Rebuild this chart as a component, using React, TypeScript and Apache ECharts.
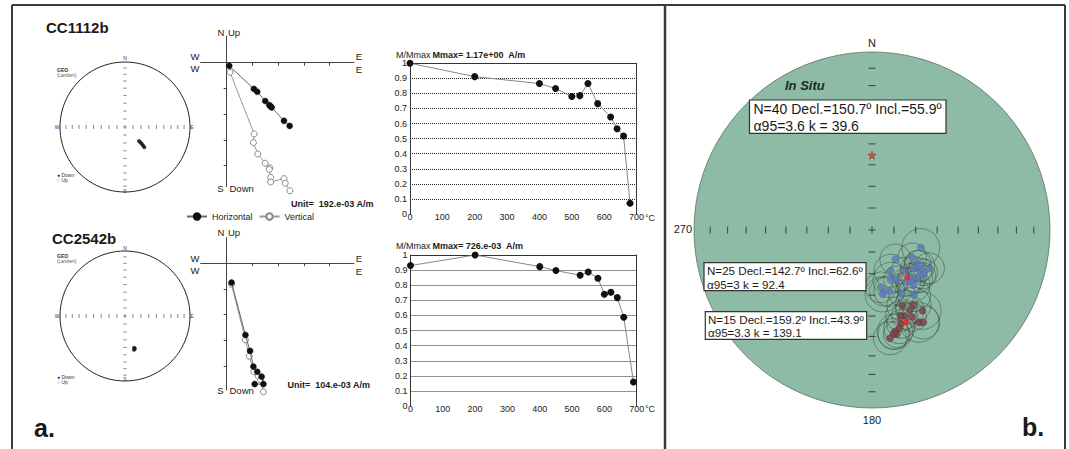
import React, { useEffect, useRef } from 'react';
import * as echarts from 'echarts';

const FONT = '"Liberation Sans", Arial, Helvetica, sans-serif';

// ---------- texts ----------
const sampleNames = ['CC1112b', 'CC2542b'];
const unitLabels = ['Unit=  192.e-03 A/m', 'Unit=  104.e-03 A/m'];
const mmaxLabels = ['Mmax= 1.17e+00  A/m', 'Mmax= 726.e-03  A/m'];
const meanBoxTexts = [
  'N=40 Decl.=150.7º Incl.=55.9º\nα95=3.6 k = 39.6',
  'N=25 Decl.=142.7º Incl.=62.6º\nα95=3 k = 92.4',
  'N=15 Decl.=159.2º Incl.=43.9º\nα95=3.3 k = 139.1',
];

// ---------- small equal-area nets (x = east, y = north, net radius = 1) ----------
const stereoTopPoints = [[0.215, -0.215], [0.238, -0.238], [0.26, -0.262], [0.28, -0.288], [0.298, -0.31]];
const stereoBottomPoints = [[0.14, -0.49], [0.152, -0.505], [0.138, -0.52]];

// ---------- Zijderveld diagrams (x = east, y = south / down, in tick units) ----------
const zijTopHorizontal = [[0.10, 0.12], [1.06, 1.02], [1.19, 1.13], [1.50, 1.49], [1.66, 1.65], [1.71, 1.70], [1.75, 1.74], [2.23, 2.26], [2.45, 2.46]];
const zijTopVertical = [[0.13, 0.37], [1.07, 2.77], [1.04, 3.11], [1.21, 3.55], [1.50, 3.91], [1.68, 4.09], [1.66, 4.15], [1.71, 4.46], [1.71, 4.64], [2.23, 4.51], [2.28, 4.69], [2.46, 4.98]];
const zijBottomHorizontal = [[0.19, 0.75], [0.73, 2.79], [0.91, 3.41], [1.04, 4.02], [1.19, 4.22], [1.36, 4.41], [1.43, 4.70], [1.09, 4.70]];
const zijBottomVertical = [[0.19, 0.82], [0.73, 2.98], [0.88, 3.61], [1.06, 4.22], [1.23, 4.39], [1.32, 4.54], [1.43, 5.00]];
const zijTicks = [1, 2, 3, 4];

// ---------- thermal demagnetisation curves ----------
const demagTempsTop = [0, 200, 400, 450, 500, 525, 550, 580, 620, 640, 660, 680];
const demagValuesTop = [1.0, 0.911, 0.865, 0.832, 0.779, 0.785, 0.865, 0.732, 0.644, 0.566, 0.518, 0.072];
const demagTempsBottom = [0, 200, 400, 450, 525, 550, 580, 600, 620, 640, 660, 690];
const demagValuesBottom = [0.93, 1.0, 0.923, 0.897, 0.866, 0.888, 0.846, 0.74, 0.754, 0.718, 0.588, 0.16];

// ---------- site mean net (x = east, y = north, net radius = 1) ----------
const siteBlue = [
  [0.274, -0.099], [0.131, -0.165], [0.226, -0.153], [0.257, -0.189], [0.320, -0.215],
  [0.105, -0.229], [0.181, -0.229], [0.270, -0.225], [0.283, -0.257], [0.254, -0.268],
  [0.226, -0.266], [0.105, -0.281], [0.139, -0.277], [0.232, -0.309], [0.049, -0.322],
  [0.067, -0.347], [0.060, -0.361], [0.097, -0.343], [0.167, -0.356], [0.236, -0.365],
  [0.229, -0.215], [0.294, -0.238], [0.266, -0.201], [0.195, -0.290], [0.219, -0.287],
];
const siteBlueA95 = [8.6, 7, 6.5, 6, 7, 7.5, 6, 5.5, 6, 7, 6.5, 8, 6, 7.5, 7, 6.5, 8, 7, 6, 7.5, 5.5, 6, 7, 6.5, 6];
const siteMaroon = [
  [0.170, -0.425], [0.232, -0.421], [0.213, -0.449], [0.283, -0.453], [0.163, -0.483],
  [0.185, -0.483], [0.264, -0.519], [0.288, -0.519], [0.163, -0.528], [0.153, -0.552],
  [0.129, -0.571], [0.139, -0.586], [0.120, -0.584], [0.101, -0.608], [0.225, -0.489],
];
const siteMaroonA95 = [7, 8, 6.5, 8.5, 7, 6, 9, 7.5, 6.5, 7, 8, 6, 7, 7.5, 6.5];
const siteMeans = [[0.198, -0.266], [0.191, -0.519]];
const siteMeanA95 = [3, 3.3];
const siteStar = [[0, 0.42]];

// graticule: inclinations marked every 10 degrees on the net diameters
const netTickIncl = [10, 20, 30, 40, 50, 60, 70, 80, 90];

const eqArea = (inc: number) => Math.SQRT2 * Math.sin(((90 - inc) / 2) * Math.PI / 180);
const A95_SCALE = 0.71 * Math.PI / 180;

function netTicks() {
  const out: number[][] = [];
  netTickIncl.forEach((inc) => {
    const r = eqArea(inc);
    if (r < 1e-9) {
      out.push([0, 0, 0], [0, 0, 1]);
    } else {
      out.push([r, 0, 0], [-r, 0, 0], [0, r, 1], [0, -r, 1]);
    }
  });
  return out;
}

const circleRender = (fill: string, stroke: string, lw: number) => (params: any, api: any) => {
  const c = api.coord([0, 0]);
  const e = api.coord([1, 0]);
  return { type: 'circle', shape: { cx: c[0], cy: c[1], r: e[0] - c[0] }, style: { fill, stroke, lineWidth: lw } };
};

const tickRender = (halfV: number, halfH: number, stroke: string, lw: number) => (params: any, api: any) => {
  const p = api.coord([api.value(0), api.value(1)]);
  const o = api.value(2);
  const shape = o === 0
    ? { x1: p[0], y1: p[1] - halfV, x2: p[0], y2: p[1] + halfV }
    : { x1: p[0] - halfH, y1: p[1], x2: p[0] + halfH, y2: p[1] };
  return { type: 'line', shape, style: { stroke, lineWidth: lw } };
};

const a95Render = (stroke: string, lw: number, dash?: number[]) => (params: any, api: any) => {
  const x = api.value(0);
  const y = api.value(1);
  const a = api.value(2);
  const c = api.coord([x, y]);
  const e = api.coord([x + a * A95_SCALE, y]);
  return {
    type: 'circle',
    shape: { cx: c[0], cy: c[1], r: Math.abs(e[0] - c[0]) },
    style: { fill: 'none', stroke, lineWidth: lw, lineDash: dash },
  };
};

const txt = (x: number, y: number, text: string, size: number, opts: any = {}) => ({
  type: 'text',
  x,
  y,
  z: 100,
  style: {
    text,
    fill: opts.fill || '#1a1a1a',
    fontSize: size,
    fontFamily: FONT,
    fontWeight: opts.bold ? 'bold' : 'normal',
    fontStyle: opts.italic ? 'italic' : 'normal',
    align: opts.align || 'left',
    textAlign: opts.align || 'left',
    verticalAlign: opts.va || 'middle',
    textVerticalAlign: opts.va || 'middle',
    lineHeight: opts.lineHeight,
  },
});

const hline = (x1: number, y1: number, x2: number, y2: number, w: number) => ({
  type: 'line',
  z: 100,
  shape: { x1, y1, x2, y2 },
  style: { stroke: '#3a3a3a', lineWidth: w },
});

const box = (x: number, y: number, w: number, h: number) => ({
  type: 'rect',
  z: 99,
  shape: { x, y, width: w, height: h },
  style: { fill: '#ffffff', stroke: '#333333', lineWidth: 1.2 },
});

function stereoAxes() {
  return {
    x: { type: 'value', min: -1, max: 1, show: false },
    y: { type: 'value', min: -1, max: 1, show: false },
  };
}

function zijAxes(xMin: number, xMax: number, yMin: number, yMax: number) {
  const common = {
    type: 'value',
    axisLine: { show: true, onZero: true, lineStyle: { color: '#444', width: 1 } },
    axisTick: { show: true, length: 3, customValues: zijTicks, lineStyle: { color: '#444', width: 1 } },
    axisLabel: { show: false },
    splitLine: { show: false },
  };
  return {
    x: { ...common, min: xMin, max: xMax, position: 'bottom' },
    y: { ...common, min: yMin, max: yMax, inverse: true, position: 'left' },
  };
}

function demagAxes() {
  const labelStyle = { fontSize: 9, color: '#222', fontFamily: FONT };
  return {
    x: {
      type: 'value', min: 0, max: 700, interval: 100,
      axisLine: { show: false, onZero: false },
      axisTick: { show: false },
      axisLabel: { ...labelStyle, margin: -2 },
      splitLine: { show: false },
    },
    xTop: {
      type: 'value', min: 0, max: 700, position: 'top',
      axisLine: { show: true, onZero: false, lineStyle: { color: '#333', width: 1 } },
      axisTick: { show: false }, axisLabel: { show: false }, splitLine: { show: false },
    },
    y: {
      type: 'value', min: 0, max: 1, interval: 0.1, position: 'left',
      axisLine: { show: true, onZero: false, lineStyle: { color: '#333', width: 1 } },
      axisTick: { show: false },
      axisLabel: { ...labelStyle, margin: 3, formatter: (v: number) => String(Number(v.toFixed(1))) },
      splitLine: { show: true, showMinLine: false, showMaxLine: false, lineStyle: { color: '#222', type: 'dotted', width: 1 } },
    },
    yRight: {
      type: 'value', min: 0, max: 1, position: 'right',
      axisLine: { show: true, onZero: false, lineStyle: { color: '#333', width: 1 } },
      axisTick: { show: false }, axisLabel: { show: false }, splitLine: { show: false },
    },
  };
}

function buildOption() {
  const s0 = stereoAxes();
  const s1 = stereoAxes();
  const s2 = stereoAxes();
  const z0 = zijAxes(-1.01, 4.95, -1.04, 4.82);
  const z1 = zijAxes(-1.01, 4.95, -1.0, 4.93);
  const d0 = demagAxes();
  const d1 = demagAxes();

  const grid = [
    { left: 60, top: 62, width: 130, height: 130 }, // 0 small net top
    { left: 200.7, top: 36, width: 153.2, height: 150.6 }, // 1 zij top
    { left: 410, top: 63.2, width: 226.5, height: 150.9 }, // 2 demag top
    { left: 60, top: 251, width: 130, height: 130 }, // 3 small net bottom
    { left: 200.7, top: 237.6, width: 153.2, height: 152.4 }, // 4 zij bottom
    { left: 410.5, top: 255, width: 226.2, height: 151.1 }, // 5 demag bottom
    { left: 694, top: 52, width: 356, height: 356 }, // 6 site net
  ].map((g) => ({ ...g, containLabel: false, outerBoundsMode: 'none' }));

  const xAxis = [
    { ...s0.x, gridIndex: 0 },
    { ...z0.x, gridIndex: 1 },
    { ...d0.x, gridIndex: 2 },
    { ...d0.xTop, gridIndex: 2 },
    { ...s1.x, gridIndex: 3 },
    { ...z1.x, gridIndex: 4 },
    { ...d1.x, gridIndex: 5 },
    { ...d1.xTop, gridIndex: 5 },
    { ...s2.x, gridIndex: 6 },
  ];
  const yAxis = [
    { ...s0.y, gridIndex: 0 },
    { ...z0.y, gridIndex: 1 },
    { ...d0.y, gridIndex: 2 },
    { ...d0.yRight, gridIndex: 2 },
    { ...s1.y, gridIndex: 3 },
    { ...z1.y, gridIndex: 4 },
    { ...d1.y, gridIndex: 5 },
    { ...d1.yRight, gridIndex: 5 },
    { ...s2.y, gridIndex: 6 },
  ];

  const ticks = netTicks();

  const smallNet = (axisIdx: number, pts: number[][]) => [
    {
      type: 'custom', xAxisIndex: axisIdx, yAxisIndex: axisIdx, silent: true, z: 1,
      renderItem: circleRender('none', '#222', 1), data: [[0, 0]],
    },
    {
      type: 'custom', xAxisIndex: axisIdx, yAxisIndex: axisIdx, silent: true, z: 2,
      renderItem: tickRender(2, 1.7, '#555', 0.7), data: ticks,
    },
    {
      type: 'scatter', xAxisIndex: axisIdx, yAxisIndex: axisIdx, z: 3,
      symbol: 'circle', symbolSize: 4,
      itemStyle: { color: '#111' }, data: pts,
    },
  ];

  const zijSeries = (axisIdx: number, h: number[][], v: number[][]) => [
    {
      name: 'Horizontal', type: 'line', xAxisIndex: axisIdx, yAxisIndex: axisIdx, clip: false, z: 4,
      symbol: 'circle', symbolSize: 6, showSymbol: true,
      lineStyle: { color: '#666', width: 1 },
      itemStyle: { color: '#111', borderColor: '#111', borderWidth: 0.5 },
      data: h,
    },
    {
      name: 'Vertical', type: 'line', xAxisIndex: axisIdx, yAxisIndex: axisIdx, clip: false, z: 3,
      symbol: 'circle', symbolSize: 6, showSymbol: true,
      lineStyle: { color: '#999', width: 1 },
      itemStyle: { color: '#ffffff', borderColor: '#888', borderWidth: 1 },
      data: v,
    },
  ];

  const demagSeries = (axisIdx: number, temps: number[], vals: number[]) => ({
    type: 'line', xAxisIndex: axisIdx, yAxisIndex: axisIdx, clip: false, z: 4,
    symbol: 'circle', symbolSize: 7,
    lineStyle: { color: '#888', width: 1 },
    itemStyle: { color: '#111' },
    data: temps.map((t, i) => [t, vals[i]]),
  });

  const series: any[] = [
    ...smallNet(0, stereoTopPoints),
    ...zijSeries(1, zijTopHorizontal, zijTopVertical),
    demagSeries(2, demagTempsTop, demagValuesTop),
    ...smallNet(4, stereoBottomPoints),
    ...zijSeries(5, zijBottomHorizontal, zijBottomVertical),
    demagSeries(6, demagTempsBottom, demagValuesBottom),
    // site net
    {
      type: 'custom', xAxisIndex: 8, yAxisIndex: 8, silent: true, z: 1,
      renderItem: circleRender('#8dbba5', '#5d6f66', 0.8), data: [[0, 0]],
    },
    {
      type: 'custom', xAxisIndex: 8, yAxisIndex: 8, silent: true, z: 2,
      renderItem: tickRender(3.5, 3.5, '#333', 0.9), data: ticks,
    },
    {
      type: 'custom', xAxisIndex: 8, yAxisIndex: 8, silent: true, z: 3,
      renderItem: a95Render('rgba(45,60,52,0.75)', 0.6),
      data: siteBlue.map((p, i) => [p[0], p[1], siteBlueA95[i]]),
    },
    {
      type: 'custom', xAxisIndex: 8, yAxisIndex: 8, silent: true, z: 3,
      renderItem: a95Render('rgba(45,60,52,0.75)', 0.6),
      data: siteMaroon.map((p, i) => [p[0], p[1], siteMaroonA95[i]]),
    },
    {
      type: 'scatter', xAxisIndex: 8, yAxisIndex: 8, z: 4,
      symbol: 'circle', symbolSize: 7,
      itemStyle: { color: '#5b7cb8', borderColor: '#4a669a', borderWidth: 0.5 },
      data: siteBlue,
    },
    {
      type: 'scatter', xAxisIndex: 8, yAxisIndex: 8, z: 4,
      symbol: 'circle', symbolSize: 7,
      itemStyle: { color: '#7b3f47', borderColor: '#5e2f36', borderWidth: 0.5 },
      data: siteMaroon,
    },
    {
      type: 'custom', xAxisIndex: 8, yAxisIndex: 8, silent: true, z: 5,
      renderItem: a95Render('#e8403a', 0.8, [2, 2]),
      data: siteMeans.map((p, i) => [p[0], p[1], siteMeanA95[i]]),
    },
    {
      type: 'scatter', xAxisIndex: 8, yAxisIndex: 8, z: 6,
      symbol: 'circle', symbolSize: 6,
      itemStyle: { color: '#ff1f1f' },
      data: siteMeans,
    },
    {
      type: 'scatter', xAxisIndex: 8, yAxisIndex: 8, z: 6,
      symbol: 'path://M50,0 L61,35 L98,35 L68,57 L79,91 L50,70 L21,91 L32,57 L2,35 L39,35 Z',
      symbolSize: 8,
      itemStyle: { color: '#e83a3a', borderColor: '#7a2020', borderWidth: 0.6 },
      data: siteStar,
    },
  ];

  const graphicElements: any[] = [
    // frame
    hline(12, 5, 1065, 5, 2),
    hline(12, 5, 12, 449, 2),
    hline(665, 5, 665, 449, 2.5),
    hline(1065, 5, 1065, 449, 2),
    // titles
    txt(46, 27, sampleNames[0], 15, { bold: true }),
    txt(52, 238.5, sampleNames[1], 15, { bold: true }),
    txt(34, 428, 'a.', 25, { bold: true }),
    txt(1022, 427, 'b.', 25, { bold: true }),
    // small net top labels
    txt(57, 70, 'GEO', 5, { bold: true, fill: '#333' }),
    txt(57, 75.5, '(Lambert)', 4.5, { fill: '#555' }),
    txt(125, 58, 'N', 5, { align: 'center', fill: '#333' }),
    txt(57, 127, 'W', 5, { align: 'center', fill: '#333' }),
    txt(192, 127, 'E', 5, { align: 'center', fill: '#333' }),
    txt(125, 190.5, 'S', 5, { align: 'center', fill: '#333' }),
    txt(57, 175, '● Down', 5, { fill: '#333' }),
    txt(57, 180, '○ Up', 5, { fill: '#333' }),
    // small net bottom labels
    txt(57, 255.5, 'GEO', 5, { bold: true, fill: '#333' }),
    txt(57, 261, '(Lambert)', 4.5, { fill: '#555' }),
    txt(125, 247.5, 'N', 5, { align: 'center', fill: '#333' }),
    txt(57, 316, 'W', 5, { align: 'center', fill: '#333' }),
    txt(192, 316, 'E', 5, { align: 'center', fill: '#333' }),
    txt(125, 379, 'S', 5, { align: 'center', fill: '#333' }),
    txt(57, 376.5, '● Down', 5, { fill: '#333' }),
    txt(57, 381.5, '○ Up', 5, { fill: '#333' }),
    // zij top labels
    txt(221, 32, 'N', 9.5, { align: 'center' }),
    txt(228, 32, 'Up', 9.5),
    txt(195, 56, 'W', 9.5, { align: 'center' }),
    txt(195, 68.5, 'W', 9.5, { align: 'center' }),
    txt(359, 56.5, 'E', 9.5, { align: 'center' }),
    txt(359, 69, 'E', 9.5, { align: 'center' }),
    txt(220.5, 188.5, 'S', 9.5, { align: 'center' }),
    txt(229.5, 188.5, 'Down', 9.5),
    txt(291, 204, unitLabels[0], 9, { bold: true }),
    // zij bottom labels
    txt(221, 232.5, 'N', 9.5, { align: 'center' }),
    txt(228, 232.5, 'Up', 9.5),
    txt(195, 258.5, 'W', 9.5, { align: 'center' }),
    txt(195, 270.5, 'W', 9.5, { align: 'center' }),
    txt(359, 258.5, 'E', 9.5, { align: 'center' }),
    txt(359, 271, 'E', 9.5, { align: 'center' }),
    txt(220.5, 390, 'S', 9.5, { align: 'center' }),
    txt(229.5, 390, 'Down', 9.5),
    txt(287.5, 384.5, unitLabels[1], 9, { bold: true }),
    // demag headers and unit
    txt(396, 54.5, 'M/Mmax', 9),
    txt(432.5, 54.5, mmaxLabels[0], 9, { bold: true }),
    txt(396, 246, 'M/Mmax', 9),
    txt(432.5, 246, mmaxLabels[1], 9, { bold: true }),
    txt(645, 217.5, '°C', 9, { fill: '#222' }),
    txt(645, 409, '°C', 9, { fill: '#222' }),
    // site net labels
    txt(872, 42.5, 'N', 11, { align: 'center' }),
    txt(872, 419.5, '180', 11, { align: 'center' }),
    txt(692, 229, '270', 11, { align: 'right' }),
    txt(785, 85, 'In Situ', 13, { bold: true, italic: true, fill: '#1c2b24' }),
    box(749.5, 100, 196.5, 33.3),
    txt(753.5, 100.9, meanBoxTexts[0], 14, { va: 'top', lineHeight: 16.7 }),
    box(704, 262.7, 162, 28),
    txt(707, 263, meanBoxTexts[1], 11.6, { va: 'top', lineHeight: 14 }),
    box(705.3, 311.7, 161.4, 27.6),
    txt(708, 312.6, meanBoxTexts[2], 11.6, { va: 'top', lineHeight: 13.4 }),
  ];

  return {
    animation: false,
    backgroundColor: '#ffffff',
    textStyle: { fontFamily: FONT },
    grid,
    xAxis,
    yAxis,
    legend: {
      show: true,
      data: ['Horizontal', 'Vertical'],
      left: 186,
      top: 212,
      itemWidth: 20,
      itemHeight: 8,
      itemGap: 6,
      padding: 0,
      selectedMode: false,
      textStyle: { fontSize: 9, color: '#222', fontFamily: FONT },
    },
    series,
    graphic: { elements: graphicElements },
  };
}

export default function App() {
  const ref = useRef<HTMLDivElement | null>(null);
  useEffect(() => {
    if (!ref.current) return;
    const chart = echarts.init(ref.current, undefined, { renderer: 'svg' });
    chart.setOption(buildOption() as any);
    return () => chart.dispose();
  }, []);
  return (
    <div
      ref={ref}
      style={{ position: 'absolute', left: 0, top: 0, width: 1069, height: 449, background: '#fff' }}
    />
  );
}
